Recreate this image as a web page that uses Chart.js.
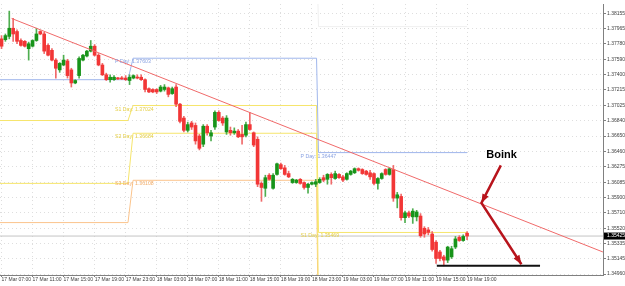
<!DOCTYPE html>
<html>
<head>
<meta charset="utf-8">
<script src="https://cdn.jsdelivr.net/npm/chart.js@4.4.1/dist/chart.umd.min.js"></script>
<style>
html, body { margin: 0; padding: 0; background: #fff; }
#wrap { width: 625px; height: 286px; }
</style>
</head>
<body>
<div id="wrap"><canvas id="chart" width="625" height="286"></canvas></div>
<script>
// 30 minute candles, bar 0 = 17 Mar 07:00
const opens = [
    1.3784, 1.3783, 1.3787, 1.3797, 1.3793, 1.3782, 1.3781, 1.3772, 1.3775, 1.3782,
    1.3793, 1.3790, 1.3776, 1.3770, 1.3758, 1.3746, 1.3752, 1.3757, 1.3746, 1.3730,
    1.3739, 1.3758, 1.3763, 1.3769, 1.3775, 1.3764, 1.3752, 1.3740, 1.3734, 1.3734,
    1.3736, 1.3736, 1.3736, 1.3733, 1.3736, 1.3737, 1.3737, 1.3734, 1.3723, 1.3722,
    1.3722, 1.3720, 1.3722, 1.3724, 1.3717, 1.3725, 1.3704, 1.3687, 1.3672, 1.3681,
    1.3678, 1.3665, 1.3655, 1.3677, 1.3665, 1.3676, 1.3694, 1.3687, 1.3670, 1.3672,
    1.3669, 1.3671, 1.3667, 1.3666, 1.3679, 1.3669, 1.3661, 1.3607, 1.3601, 1.3617,
    1.3601, 1.3618, 1.3630, 1.3626, 1.3619, 1.3608, 1.3608, 1.3612, 1.3608, 1.3602,
    1.3606, 1.3606, 1.3608, 1.3614, 1.3612, 1.3618, 1.3613, 1.3618, 1.3615, 1.3612,
    1.3618, 1.3620, 1.3625, 1.3624, 1.3622, 1.3620, 1.3619, 1.3607, 1.3613, 1.3624,
    1.3618, 1.3624, 1.3589, 1.3591, 1.3565, 1.3571, 1.3566, 1.3566, 1.3567, 1.3552,
    1.3550, 1.3545, 1.3535, 1.3523, 1.3517, 1.3513, 1.3517, 1.3529, 1.3541, 1.3537,
    1.3546
];
const highs = [
    1.3788, 1.3790, 1.3818, 1.3809, 1.3795, 1.3784, 1.3782, 1.3780, 1.3783, 1.3797,
    1.3794, 1.3792, 1.3778, 1.3772, 1.3760, 1.3755, 1.3764, 1.3759, 1.3748, 1.3734,
    1.3762, 1.3765, 1.3770, 1.3782, 1.3777, 1.3766, 1.3754, 1.3742, 1.3740, 1.3739,
    1.3737, 1.3738, 1.3739, 1.3740, 1.3740, 1.3740, 1.3740, 1.3735, 1.3724, 1.3723,
    1.3723, 1.3727, 1.3728, 1.3725, 1.3725, 1.3728, 1.3705, 1.3689, 1.3682, 1.3683,
    1.3681, 1.3667, 1.3679, 1.3679, 1.3672, 1.3696, 1.3696, 1.3689, 1.3690, 1.3676,
    1.3675, 1.3673, 1.3678, 1.3682, 1.3694, 1.3670, 1.3664, 1.3609, 1.3617, 1.3619,
    1.3619, 1.3632, 1.3632, 1.3629, 1.3622, 1.3613, 1.3612, 1.3613, 1.3609, 1.3607,
    1.3609, 1.3612, 1.3614, 1.3617, 1.3619, 1.3620, 1.3622, 1.3619, 1.3617, 1.3620,
    1.3623, 1.3626, 1.3626, 1.3625, 1.3623, 1.3623, 1.3620, 1.3614, 1.3620, 1.3625,
    1.3626, 1.3629, 1.3596, 1.3594, 1.3573, 1.3573, 1.3576, 1.3574, 1.3570, 1.3554,
    1.3553, 1.3548, 1.3537, 1.3525, 1.3519, 1.3530, 1.3530, 1.3542, 1.3543, 1.3544,
    1.3548
];
const lows = [
    1.3772, 1.3781, 1.3784, 1.3781, 1.3778, 1.3775, 1.3774, 1.3758, 1.3774, 1.3781,
    1.3789, 1.3766, 1.3763, 1.3757, 1.3736, 1.3743, 1.3751, 1.3736, 1.3725, 1.3729,
    1.3736, 1.3757, 1.3762, 1.3768, 1.3763, 1.3751, 1.3739, 1.3733, 1.3731, 1.3733,
    1.3734, 1.3734, 1.3733, 1.3728, 1.3735, 1.3735, 1.3733, 1.3719, 1.3718, 1.3718,
    1.3717, 1.3719, 1.3720, 1.3713, 1.3716, 1.3701, 1.3681, 1.3670, 1.3670, 1.3673,
    1.3655, 1.3648, 1.3652, 1.3666, 1.3659, 1.3673, 1.3683, 1.3678, 1.3667, 1.3666,
    1.3667, 1.3663, 1.3655, 1.3664, 1.3672, 1.3652, 1.3603, 1.3585, 1.3591, 1.3611,
    1.3600, 1.3617, 1.3624, 1.3617, 1.3614, 1.3607, 1.3607, 1.3606, 1.3600, 1.3595,
    1.3605, 1.3603, 1.3607, 1.3609, 1.3606, 1.3606, 1.3612, 1.3613, 1.3609, 1.3611,
    1.3617, 1.3619, 1.3622, 1.3618, 1.3617, 1.3612, 1.3605, 1.3600, 1.3612, 1.3617,
    1.3617, 1.3585, 1.3577, 1.3562, 1.3559, 1.3565, 1.3558, 1.3561, 1.3541, 1.3541,
    1.3544, 1.3524, 1.3509, 1.3512, 1.3506, 1.3510, 1.3515, 1.3527, 1.3536, 1.3536,
    1.3538
];
const closes = [
    1.3775, 1.3788, 1.3797, 1.3790, 1.3781, 1.3776, 1.3775, 1.3778, 1.3782, 1.3790,
    1.3790, 1.3769, 1.3764, 1.3758, 1.3748, 1.3754, 1.3758, 1.3739, 1.3730, 1.3733,
    1.3760, 1.3764, 1.3769, 1.3775, 1.3764, 1.3752, 1.3740, 1.3734, 1.3737, 1.3737,
    1.3735, 1.3735, 1.3734, 1.3737, 1.3739, 1.3736, 1.3734, 1.3722, 1.3719, 1.3719,
    1.3719, 1.3725, 1.3725, 1.3716, 1.3723, 1.3704, 1.3683, 1.3672, 1.3679, 1.3676,
    1.3659, 1.3650, 1.3677, 1.3669, 1.3669, 1.3694, 1.3684, 1.3681, 1.3687, 1.3669,
    1.3671, 1.3664, 1.3664, 1.3679, 1.3673, 1.3654, 1.3606, 1.3602, 1.3614, 1.3612,
    1.3617, 1.3631, 1.3625, 1.3618, 1.3615, 1.3612, 1.3611, 1.3607, 1.3602, 1.3606,
    1.3608, 1.3609, 1.3612, 1.3611, 1.3618, 1.3614, 1.3619, 1.3614, 1.3611, 1.3619,
    1.3622, 1.3625, 1.3623, 1.3619, 1.3618, 1.3615, 1.3607, 1.3613, 1.3619, 1.3618,
    1.3625, 1.3589, 1.3593, 1.3565, 1.3571, 1.3567, 1.3573, 1.3572, 1.3543, 1.3545,
    1.3547, 1.3526, 1.3515, 1.3515, 1.3513, 1.3529, 1.3527, 1.3539, 1.3537, 1.3542,
    1.35425
];

// time axis labels, one every 8 bars (4 hours)
const timeLabels = [
    '17 Mar 07:00', '17 Mar 11:00', '17 Mar 15:00', '17 Mar 19:00', '17 Mar 23:00',
    '18 Mar 03:00', '18 Mar 07:00', '18 Mar 11:00', '18 Mar 15:00', '18 Mar 19:00',
    '18 Mar 23:00', '19 Mar 03:00', '19 Mar 07:00', '19 Mar 11:00', '19 Mar 15:00',
    '19 Mar 19:00'
];
const barsPerLabel = 8;

// price scale labels
const priceTicks = [
    1.38155, 1.37965, 1.37780, 1.37590, 1.37400, 1.37215, 1.37025, 1.36840, 1.36650,
    1.36460, 1.36275, 1.36085, 1.35900, 1.35710, 1.35520, 1.35335, 1.35145, 1.34960
];
const lastPrice = 1.35425;

// daily pivot levels (bar positions where each day begins / ends)
const dayStart = [-2, 33.9, 81.7];
const dayEnd = [32.6, 81.2, 120];
const pivotP = [1.3734, 1.37603, 1.36447];
const pivotS1 = [1.3684, 1.37024, 1.35469];
const pivotS2 = [1.3607, 1.36684, 1.3455];
const pivotS3 = [1.3559, 1.36108, 1.3400];
const pivotR = [1.3900, 1.3900, 1.3799];

// drawn objects
const trendX = [2.6, 155.0];
const trendY = [1.3809, 1.3523];
const arrowX = [128.7, 123.7, 134.0];
const arrowY = [1.3629, 1.3583, 1.3508];
const floorX = [112.2, 138.8];
const floorY = [1.3506, 1.3506];
const boinkX = 128.9;
const boinkY = 1.3642;

const upBody = '#18941a';
const downBody = '#f23636';
const upWick = '#4fae50';
const downWick = '#f06a6a';

function stepPoints(levels) {
    const pts = [];
    for (let d = 0; d < levels.length; d++) {
        pts.push({ x: dayStart[d], y: levels[d] });
        pts.push({ x: dayEnd[d], y: levels[d] });
    }
    return pts;
}

function lineSet(data, color, width, order) {
    return {
        type: 'line',
        data: data,
        borderColor: color,
        borderWidth: width,
        pointRadius: 0,
        tension: 0,
        fill: false,
        order: order
    };
}

const isUp = closes.map((c, i) => c >= opens[i]);

const pivotLevels = [
    { name: 'P', values: pivotP, line: '#9fb6ec', text: '#8ba3e2' },
    { name: 'S1', values: pivotS1, line: '#f6e56c', text: '#e5cf48' },
    { name: 'S2', values: pivotS2, line: '#f6e56c', text: '#e5cf48' },
    { name: 'S3', values: pivotS3, line: '#fbc48c', text: '#f2ad6a' }
];

const datasets = [
    {
        type: 'bar',
        data: highs.map((h, i) => ({ x: i, y: [lows[i], h] })),
        backgroundColor: isUp.map(u => u ? upWick : downWick),
        barThickness: 1,
        grouped: false,
        borderWidth: 0,
        order: 3
    },
    {
        type: 'bar',
        data: opens.map((o, i) => ({ x: i, y: [Math.min(o, closes[i]), Math.max(o, closes[i])] })),
        backgroundColor: isUp.map(u => u ? upBody : downBody),
        barThickness: 3,
        minBarLength: 1,
        grouped: false,
        borderWidth: 0,
        order: 2
    },
    lineSet([{ x: -2, y: lastPrice }, { x: 160, y: lastPrice }], '#c4c4c4', 1, 6),
    lineSet(stepPoints(pivotR), '#f0f0f0', 1, 5),
    lineSet([{ x: trendX[0], y: trendY[0] }, { x: trendX[1], y: trendY[1] }], '#f06a6a', 1, 1),
    lineSet(arrowX.map((x, i) => ({ x: x, y: arrowY[i] })), '#b8141c', 2.5, 0),
    lineSet(floorX.map((x, i) => ({ x: x, y: floorY[i] })), '#111111', 2, 0)
];
pivotLevels.forEach(p => datasets.push(lineSet(stepPoints(p.values), p.line, 1, 4)));

function arrowHead(ctx, x1, y1, x2, y2) {
    const a = Math.atan2(y2 - y1, x2 - x1);
    const len = 9, half = 3.5;
    ctx.beginPath();
    ctx.moveTo(x2, y2);
    ctx.lineTo(x2 - len * Math.cos(a) + half * Math.sin(a), y2 - len * Math.sin(a) - half * Math.cos(a));
    ctx.lineTo(x2 - len * Math.cos(a) - half * Math.sin(a), y2 - len * Math.sin(a) + half * Math.cos(a));
    ctx.closePath();
    ctx.fill();
}

const annotations = {
    id: 'annotations',
    afterDatasetsDraw(chart) {
        const { ctx, chartArea, scales: { x, y } } = chart;
        ctx.save();
        ctx.beginPath();
        ctx.rect(chartArea.left, chartArea.top, chartArea.right - chartArea.left, chartArea.bottom - chartArea.top);
        ctx.clip();

        // pivot captions at the start of each day
        ctx.font = '5.2px "Liberation Sans", Arial, sans-serif';
        ctx.textAlign = 'left';
        ctx.textBaseline = 'top';
        pivotLevels.forEach(p => {
            for (let d = 1; d < dayStart.length; d++) {
                const py = y.getPixelForValue(p.values[d]);
                if (py > chartArea.bottom) continue;
                ctx.fillStyle = p.text;
                ctx.fillText(p.name + ' Day: ' + p.values[d].toFixed(5), x.getPixelForValue(dayStart[d]) - 18, py + 1);
            }
        });

        // arrow heads
        ctx.fillStyle = '#b8141c';
        for (let i = 1; i < arrowX.length; i++) {
            arrowHead(ctx,
                x.getPixelForValue(arrowX[i - 1]), y.getPixelForValue(arrowY[i - 1]),
                x.getPixelForValue(arrowX[i]), y.getPixelForValue(arrowY[i]));
        }

        ctx.font = 'bold 11px "Liberation Sans", Arial, sans-serif';
        ctx.fillStyle = '#000';
        ctx.textAlign = 'center';
        ctx.textBaseline = 'middle';
        ctx.fillText('Boink', x.getPixelForValue(boinkX), y.getPixelForValue(boinkY));
        ctx.restore();
    },
    afterDraw(chart) {
        const { ctx, chartArea, scales: { y } } = chart;
        const py = y.getPixelForValue(lastPrice);
        ctx.save();
        ctx.fillStyle = '#000';
        ctx.fillRect(chartArea.right + 1, py - 3.5, 21, 7);
        ctx.fillStyle = '#fff';
        ctx.font = '5px "Liberation Sans", Arial, sans-serif';
        ctx.textAlign = 'left';
        ctx.textBaseline = 'middle';
        ctx.fillText(lastPrice.toFixed(5), chartArea.right + 4, py);
        ctx.restore();
    }
};

new Chart(document.getElementById('chart'), {
    type: 'bar',
    data: { datasets: datasets },
    plugins: [annotations],
    options: {
        responsive: false,
        animation: false,
        devicePixelRatio: 1,
        layout: { padding: 0 },
        plugins: { legend: { display: false }, tooltip: { enabled: false } },
        scales: {
            x: {
                type: 'linear',
                min: -0.39,
                max: 155.03,
                offset: false,
                grid: { offset: false, color: '#dedede', tickColor: '#808080', tickLength: 2, tickBorderDash: [] },
                border: { color: '#808080', dash: [1, 3] },
                ticks: {
                    align: 'start',
                    padding: 0,
                    maxRotation: 0,
                    autoSkip: false,
                    color: '#404040',
                    font: { family: '"Liberation Sans", Arial, sans-serif', size: 5 },
                    callback: v => timeLabels[Math.round(v / barsPerLabel)]
                },
                afterBuildTicks: scale => {
                    scale.ticks = timeLabels.map((t, i) => ({ value: i * barsPerLabel }));
                },
                afterFit: scale => { scale.height = 11; }
            },
            y: {
                type: 'linear',
                position: 'right',
                min: 1.34948,
                max: 1.38267,
                grid: { color: '#dedede', tickColor: '#808080', tickLength: 3, tickBorderDash: [] },
                border: { color: '#808080', dash: [1, 3] },
                ticks: {
                    padding: 1,
                    color: '#404040',
                    font: { family: '"Liberation Sans", Arial, sans-serif', size: 5 },
                    callback: v => v.toFixed(5)
                },
                afterBuildTicks: scale => {
                    scale.ticks = priceTicks.map(v => ({ value: v }));
                },
                afterFit: scale => { scale.width = 22; }
            }
        }
    }
});
</script>
</body>
</html>
